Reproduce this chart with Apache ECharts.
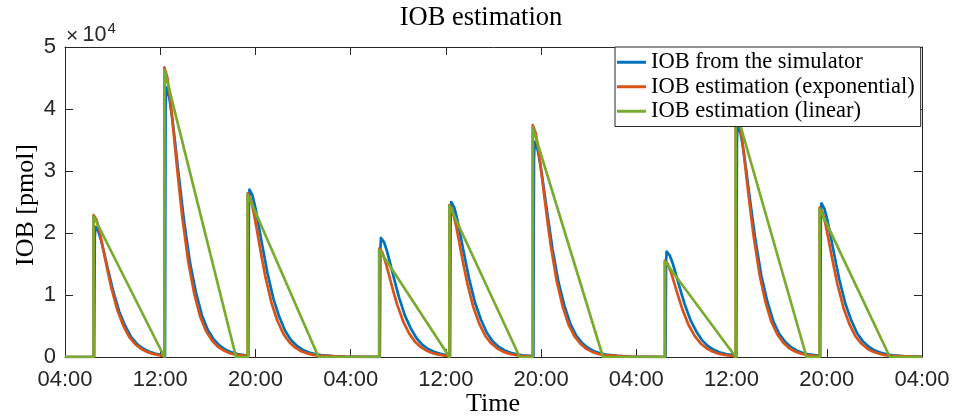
<!DOCTYPE html>
<html>
<head>
<meta charset="utf-8">
<script src="https://cdn.jsdelivr.net/npm/echarts@6/dist/echarts.min.js"></script>
<style>
html,body{margin:0;padding:0;background:#fff;}
#chart{width:955px;height:416px;}
</style>
</head>
<body>
<div id="chart"></div>
<script>
// ---- data (time in hours since 04:00 of day 1, IOB in pmol) ----
const seriesNames = ['IOB from the simulator', 'IOB estimation (exponential)', 'IOB estimation (linear)'];
const xTickLabels = ['04:00','12:00','20:00','04:00','12:00','20:00','04:00','12:00','20:00','04:00'];
const yTickLabels = ['0','1','2','3','4','5'];

const iobSimulator = [
[0,0],[2.45,0],[2.5,19300],[2.55,21000],
[2.8,20270],[3.05,18690],[3.3,16700],[3.55,14600],[3.8,12600],[4.05,10610],[4.55,7350],[5.05,5040],[5.55,3260],[6.05,2100],[6.55,1370],[7.05,880],[7.55,570],[8.05,360],[8.4,250],
[8.45,40000],[8.5,43500],
[8.75,41980],[9.0,38720],[9.25,34580],[9.5,30230],[9.75,26100],[10.0,21970],[10.5,15230],[11.0,10440],[11.5,6740],[12.0,4350],[12.5,2830],[13.0,1830],[13.5,1170],[14.0,740],[14.5,480],[15.4,200],
[15.45,24800],[15.5,27000],
[15.75,26060],[16.0,24030],[16.25,21470],[16.5,18770],[16.75,16200],[17.0,13640],[17.5,9450],[18.0,6480],[18.5,4190],[19.0,2700],[19.5,1760],[20.0,1130],[20.5,730],[21.0,460],[21.5,300],[22.5,140],[23.5,50],[25.5,10],[26.45,10],
[26.5,17700],[26.55,19200],
[26.8,18530],[27.05,17090],[27.3,15260],[27.55,13340],[27.8,11520],[28.05,9700],[28.55,6720],[29.05,4610],[29.55,2980],[30.05,1920],[30.55,1250],[31.05,810],[31.55,520],[32.05,330],[32.35,230],
[32.4,23000],[32.45,25000],
[32.7,24130],[32.95,22250],[33.2,19880],[33.45,17380],[33.7,15000],[33.95,12630],[34.45,8750],[34.95,6000],[35.45,3880],[35.95,2500],[36.45,1630],[36.95,1050],[37.45,680],[37.95,430],[38.45,280],[39.35,130],
[39.4,31900],[39.45,34700],
[39.7,33490],[39.95,30880],[40.2,27590],[40.45,24120],[40.7,20820],[40.95,17520],[41.45,12150],[41.95,8330],[42.45,5380],[42.95,3470],[43.45,2260],[43.95,1460],[44.45,940],[44.95,590],[45.45,380],[46.45,170],[47.45,70],[49.45,10],[50.45,0],
[50.5,15600],[50.55,17000],
[50.8,16410],[51.05,15130],[51.3,13520],[51.55,11820],[51.8,10200],[52.05,8590],[52.55,5950],[53.05,4080],[53.55,2640],[54.05,1700],[54.55,1110],[55.05,710],[55.55,460],[56.05,290],[56.4,200],
[56.45,34500],[56.5,37500],
[56.75,36190],[57.0,33380],[57.25,29810],[57.5,26060],[57.75,22500],[58.0,18940],[58.5,13130],[59.0,9000],[59.5,5810],[60.0,3750],[60.5,2440],[61.0,1580],[61.5,1010],[62.0,640],[62.5,410],[63.45,190],
[63.5,22800],[63.55,24800],
[63.8,23930],[64.05,22070],[64.3,19720],[64.55,17240],[64.8,14880],[65.05,12520],[65.55,8680],[66.05,5950],[66.55,3840],[67.05,2480],[67.55,1610],[68.05,1040],[68.55,670],[69.05,420],[69.55,270],[70.55,120],[71.55,50],[72,30]
];

const iobExponential = [
[0,0],[2.4,0],
[2.4,22900],[2.65,22100],[2.9,20270],[3.15,17980],[3.4,15570],[3.65,13280],[3.9,11110],[4.4,7560],[4.9,5040],[5.4,3210],[5.9,2060],[6.4,1310],[6.9,800],[7.4,500],[7.9,300],[8.35,190],
[8.35,46700],[8.6,45070],[8.85,41330],[9.1,36660],[9.35,31760],[9.6,27090],[9.85,22650],[10.35,15410],[10.85,10270],[11.35,6540],[11.85,4200],[12.35,2660],[12.85,1630],[13.35,1030],[13.85,610],[14.35,370],[15.35,140],
[15.35,26400],[15.6,25480],[15.85,23360],[16.1,20720],[16.35,17950],[16.6,15310],[16.85,12800],[17.35,8710],[17.85,5810],[18.35,3700],[18.85,2380],[19.35,1500],[19.85,920],[20.35,580],[20.85,340],[21.35,210],[23.35,50],[26.4,0],
[26.4,17500],[26.65,16890],[26.9,15490],[27.15,13740],[27.4,11900],[27.65,10150],[27.9,8490],[28.4,5780],[28.9,3850],[29.4,2450],[29.9,1580],[30.4,1000],[30.9,610],[31.4,390],[31.9,230],[32.3,150],
[32.3,24500],[32.55,23640],[32.8,21680],[33.05,19230],[33.3,16660],[33.55,14210],[33.8,11880],[34.3,8090],[34.8,5390],[35.3,3430],[35.8,2210],[36.3,1400],[36.8,860],[37.3,540],[37.8,320],[38.3,200],[39.3,70],
[39.3,37400],[39.55,36090],[39.8,33100],[40.05,29360],[40.3,25430],[40.55,21690],[40.8,18140],[41.3,12340],[41.8,8230],[42.3,5240],[42.8,3370],[43.3,2130],[43.8,1310],[44.3,820],[44.8,490],[45.3,300],[47.3,70],[50.4,0],
[50.4,15500],[50.65,14960],[50.9,13720],[51.15,12170],[51.4,10540],[51.65,8990],[51.9,7520],[52.4,5120],[52.9,3410],[53.4,2170],[53.9,1400],[54.4,880],[54.9,540],[55.4,340],[55.9,200],[56.35,130],
[56.35,40300],[56.6,38890],[56.85,35670],[57.1,31640],[57.35,27400],[57.6,23370],[57.85,19550],[58.35,13300],[58.85,8870],[59.35,5640],[59.85,3630],[60.35,2300],[60.85,1410],[61.35,890],[61.85,520],[62.35,320],[63.4,120],
[63.4,24100],[63.65,23260],[63.9,21330],[64.15,18920],[64.4,16390],[64.65,13980],[64.9,11690],[65.4,7950],[65.9,5300],[66.4,3370],[66.9,2170],[67.4,1370],[67.9,840],[68.4,530],[68.9,310],[69.4,190],[71.4,50],[72,30]
];

const iobLinear = [
[0,0],[2.4,0],[2.4,22700],[8.35,0],[8.35,46300],[14.37,0],[15.35,0],[15.35,26200],[21.3,0],
[26.4,0],[26.4,17300],[32.3,0],[32.3,24400],[38.2,0],[39.3,0],[39.3,37000],[45.2,0],
[50.4,0],[50.4,15400],[56.35,0],[56.35,40000],[62.3,0],[63.4,0],[63.4,23900],[69.3,0],[72,0]
];

// ---- chart ----
const AX = '#262626';
const SERIF = '"Liberation Serif", "Times New Roman", serif';
const SANS = '"Liberation Sans", Arial, Helvetica, sans-serif';
const colors = ['#0072BD', '#D95319', '#77AC30'];

const chart = echarts.init(document.getElementById('chart'), null, {renderer: 'canvas'});

function xAxisDef(pos, showLabel) {
  return {
    type: 'value', position: pos, min: 0, max: 72, interval: 8,
    axisLine: {show: true, onZero: false, lineStyle: {color: AX, width: 1}},
    axisTick: {show: true, inside: true, length: 8, lineStyle: {color: AX, width: 1}},
    axisLabel: {show: showLabel, margin: 12, color: AX, fontFamily: SANS, fontSize: 22,
      formatter: v => xTickLabels[Math.round(v / 8)]},
    splitLine: {show: false}
  };
}
function yAxisDef(pos, showLabel) {
  return {
    type: 'value', position: pos, min: 0, max: 50000, interval: 10000,
    axisLine: {show: true, onZero: false, lineStyle: {color: AX, width: 1}},
    axisTick: {show: true, inside: true, length: 8, lineStyle: {color: AX, width: 1}},
    axisLabel: {show: showLabel, margin: 9, color: AX, fontFamily: SANS, fontSize: 22,
      formatter: v => yTickLabels[Math.round(v / 10000)]},
    splitLine: {show: false}
  };
}

const seriesData = [iobSimulator, iobExponential, iobLinear];

chart.setOption({
  animation: false,
  backgroundColor: '#fff',
  grid: {left: 65, right: 33, top: 47, bottom: 59, containLabel: false},
  xAxis: [xAxisDef('bottom', true), xAxisDef('top', false)],
  yAxis: [yAxisDef('left', true), yAxisDef('right', false)],
  legend: {
    orient: 'vertical', left: 615, top: 47, z: 20,
    data: seriesNames,
    selectedMode: false,
    icon: 'rect',
    itemWidth: 29, itemHeight: 3, itemGap: 0,
    padding: [3, 6, 3, 2],
    backgroundColor: '#fff', borderColor: AX, borderWidth: 1,
    textStyle: {fontFamily: SERIF, fontSize: 22.5, lineHeight: 24.5, color: '#000'}
  },
  series: seriesData.map((d, i) => ({
    name: seriesNames[i], type: 'line', data: d,
    xAxisIndex: 0, yAxisIndex: 0,
    symbol: 'none', showSymbol: false,
    lineStyle: {color: colors[i], width: 2.7, join: 'round'},
    itemStyle: {color: colors[i]},
    z: 2, zlevel: 0
  })),
  graphic: [
    {type: 'text', x: 481, y: 18, style: {text: 'IOB estimation', fontFamily: SERIF, fontSize: 26.5, fill: '#000', align: 'center', verticalAlign: 'middle'}},
    {type: 'text', x: 493, y: 404, style: {text: 'Time', fontFamily: SERIF, fontSize: 26, fill: '#000', align: 'center', verticalAlign: 'middle'}},
    {type: 'text', x: 26, y: 205, rotation: Math.PI / 2, style: {text: 'IOB [pmol]', fontFamily: SERIF, fontSize: 26, fill: '#000', align: 'center', verticalAlign: 'middle'}},
    {type: 'text', x: 66, y: 36, style: {text: '\u00d7', fontFamily: SANS, fontSize: 21, fill: AX, align: 'left', verticalAlign: 'middle'}},
    {type: 'text', x: 82.5, y: 35, style: {text: '10', fontFamily: SANS, fontSize: 21.5, fill: AX, align: 'left', verticalAlign: 'middle'}},
    {type: 'text', x: 107.5, y: 29, style: {text: '4', fontFamily: SANS, fontSize: 15, fill: AX, align: 'left', verticalAlign: 'middle'}}
  ]
});
</script>
</body>
</html>
